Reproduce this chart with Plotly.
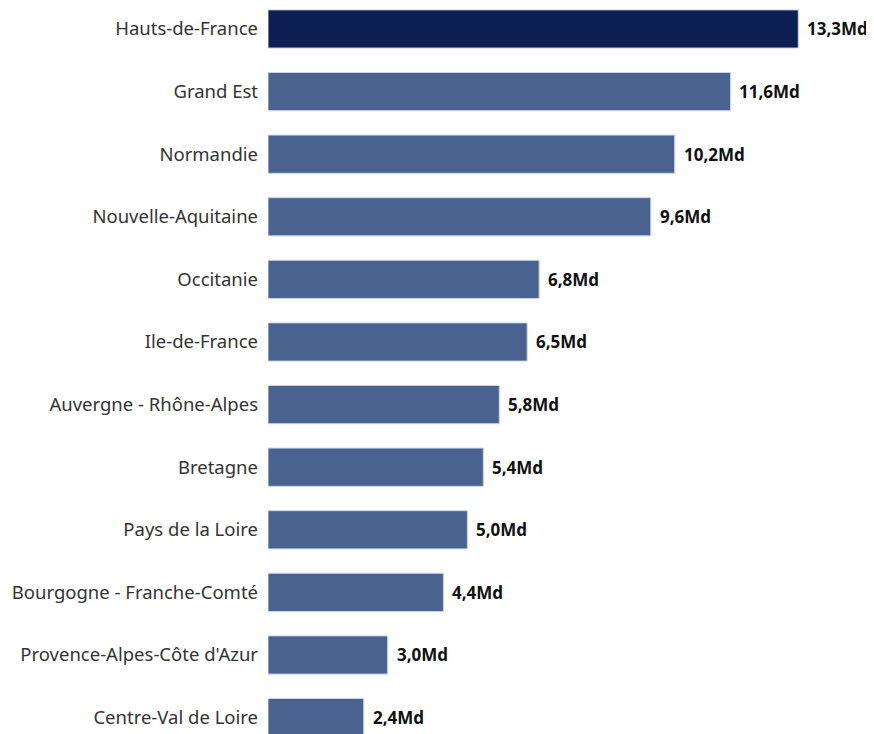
import plotly.graph_objects as go

regions = ["Hauts-de-France", "Grand Est", "Normandie", "Nouvelle-Aquitaine", "Occitanie",
           "Ile-de-France", "Auvergne - Rhône-Alpes", "Bretagne", "Pays de la Loire",
           "Bourgogne - Franche-Comté", "Provence-Alpes-Côte d'Azur", "Centre-Val de Loire"]
values = [13.3, 11.6, 10.2, 9.6, 6.8, 6.5, 5.8, 5.4, 5.0, 4.4, 3.0, 2.4]
labels = [f"{v:.1f}".replace(".", ",") + "Md" for v in values]

colors = ["#0b1f52"] + ["#4a628f"] * (len(values) - 1)

fig = go.Figure(go.Bar(
    x=values, y=regions, orientation="h",
    marker=dict(color=colors, line=dict(color="#c9d3e6", width=1)),
    width=0.61, hoverinfo="skip",
))

for r, v, t in zip(regions, values, labels):
    fig.add_annotation(x=v, y=r, text=f"<b>{t}</b>", showarrow=False,
                       xanchor="left", xshift=7, yshift=0,
                       font=dict(family="Noto Sans", size=17, color="#111111"))

fig.update_layout(
    width=874, height=734,
    margin=dict(l=260, r=0, t=0, b=0),
    paper_bgcolor="white", plot_bgcolor="white",
    showlegend=False,
    font=dict(family="Noto Sans", size=18.5, color="#333333"),
)
fig.update_xaxes(range=[0, 15.4], visible=False)
fig.update_yaxes(range=[11.39, -0.335], showgrid=False, zeroline=False, showline=False,
                 ticks="", ticklabelstandoff=9,
                 tickfont=dict(family="Noto Sans", size=18.5, color="#333333"))

fig.write_html("out.html")
